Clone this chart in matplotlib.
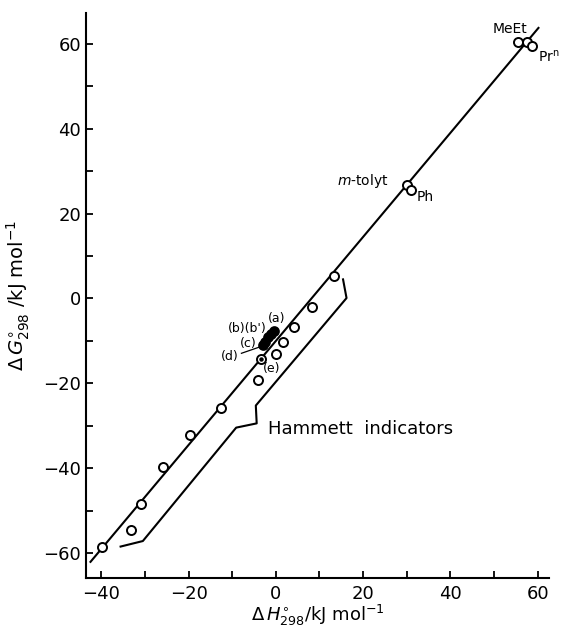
import numpy as np
import matplotlib
matplotlib.use("Agg")
import matplotlib.pyplot as plt
from matplotlib.ticker import MultipleLocator

# open circles: dH (x), dG (y) in kJ/mol
dh_open = [-39.9, -33.3, -30.9, -25.8, -19.6, -12.6, -4.0, 0.0, 1.6, 4.1, 8.3, 13.3,
           30.0, 30.9, 55.6, 57.5, 58.8]
dg_open = [-58.4, -54.5, -48.3, -39.6, -32.1, -25.8, -19.2, -13.1, -10.2, -6.8, -1.9, 5.4,
           26.8, 25.6, 60.3, 60.3, 59.5]

# filled points (a), (b'), (b), (c), (d)
dh_fill = [-0.4, -1.2, -1.9, -2.6, -3.0]
dg_fill = [-7.6, -8.4, -9.0, -10.3, -11.0]

# dotted circle (e)
dh_e = [-3.4]
dg_e = [-14.2]

# correlation line end points
line_x = [-42.5, 60.2]
line_y = [-62.0, 63.7]

# bracket round the Hammett indicators
bracket_x = [-35.6, -30.5, -9.1, -4.4, -4.6, 16.2, 15.4]
bracket_y = [-58.4, -57.1, -30.4, -29.4, -25.2, 0.1, 4.5]

fig = plt.figure(figsize=(5.63, 6.31), dpi=100)
ax = fig.add_axes([0.153, 0.0840, 0.822, 0.896])

ax.plot(line_x, line_y, color='black', lw=1.5, zorder=2)
ax.plot(bracket_x, bracket_y, color='black', lw=1.5, zorder=2)

ax.plot(dh_open, dg_open, 'o', ms=6.5, mfc='white', mec='black', mew=1.4, zorder=3)
ax.plot(dh_fill, dg_fill, 'o', ms=6.5, mfc='black', mec='black', mew=1.2, zorder=4)
ax.plot(dh_e, dg_e, 'o', ms=6.5, mfc='white', mec='black', mew=1.4, zorder=3)
ax.plot(dh_e, dg_e, 'o', ms=2.2, color='black', zorder=4)

fs = 10
ax.text(53.7, 63.5, 'MeEt', fontsize=fs, ha='center', va='center')
ax.text(60.2, 56.9, r'Pr$^{\rm n}$', fontsize=fs, ha='left', va='center')
ax.text(32.3, 23.9, 'Ph', fontsize=fs, ha='left', va='center')
ax.text(25.9, 27.6, r'$m$-tolyt', fontsize=fs, ha='right', va='center')
ax.text(-1.9, -30.8, 'Hammett  indicators', fontsize=13, ha='left', va='center')

ax.text(0.2, -4.7, '(a)', fontsize=fs - 1, ha='center', va='center')
ax.text(-6.6, -7.1, "(b)(b')", fontsize=fs - 1, ha='center', va='center')
ax.text(-6.4, -10.6, '(c)', fontsize=fs - 1, ha='center', va='center')
ax.text(-10.5, -13.7, '(d)', fontsize=fs - 1, ha='center', va='center')
ax.plot([-7.9, -3.1], [-12.9, -11.2], color='black', lw=0.9)
ax.text(-0.9, -16.5, '(e)', fontsize=fs - 1, ha='center', va='center')

ax.set_xlim(-43.5, 62.6)
ax.set_ylim(-65.8, 67.3)
ax.xaxis.set_major_locator(MultipleLocator(20))
ax.xaxis.set_minor_locator(MultipleLocator(10))
ax.yaxis.set_major_locator(MultipleLocator(20))
ax.yaxis.set_minor_locator(MultipleLocator(10))
ax.tick_params(which='both', direction='in', length=5, width=1.3, labelsize=13)
ax.tick_params(axis='x', pad=5)

for s in ['top', 'right']:
    ax.spines[s].set_visible(False)
for s in ['left', 'bottom']:
    ax.spines[s].set_linewidth(1.5)

ax.set_xlabel(r'$\Delta\,H^{\circ}_{298}$/kJ mol$^{-1}$', fontsize=13, labelpad=0)
ax.set_ylabel(r'$\Delta\,G^{\circ}_{298}$ /kJ mol$^{-1}$', fontsize=14, labelpad=8)

fig.savefig('out.png', dpi=100)
